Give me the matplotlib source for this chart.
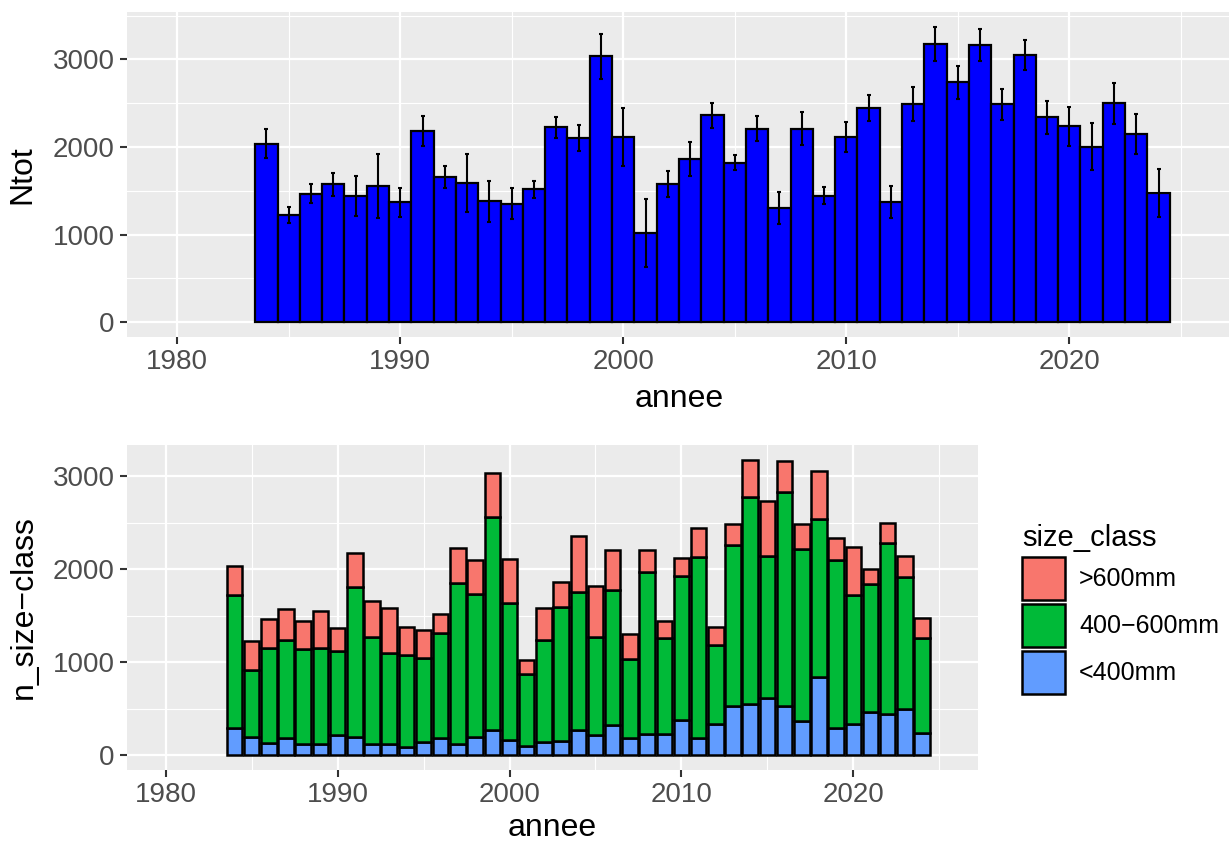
import matplotlib
matplotlib.use("Agg")
import matplotlib.pyplot as plt
from matplotlib.patches import Patch
from matplotlib.ticker import MultipleLocator
import numpy as np

plt.rcParams["font.family"] = ["Liberation Sans", "DejaVu Sans"]

annee = np.arange(1984, 2025)
ntot = [2040, 1226, 1466, 1573, 1439, 1553, 1371, 2180, 1659, 1587,
        1379, 1352, 1519, 2226, 2104, 3035, 2115, 1021, 1580, 1865,
        2362, 1823, 2207, 1306, 2211, 1443, 2120, 2442, 1375, 2491,
        3179, 2738, 3168, 2488, 3054, 2340, 2237, 2006, 2499, 2149, 1477]
ntot_err = [167, 88, 110, 131, 230, 368, 167, 170, 127, 332,
            235, 176, 97, 118, 144, 256, 330, 387, 146, 198,
            139, 90, 142, 180, 192, 98, 171, 150, 180, 195,
            197, 186, 182, 176, 172, 189, 220, 270, 235, 226, 272]

# counts per size class
n_lt400 = [297, 200, 129, 183, 118, 118, 215, 197, 118, 118,
           89, 143, 186, 118, 200, 272, 164, 103, 140, 154,
           272, 215, 322, 183, 226, 226, 383, 189, 333, 530,
           551, 619, 533, 368, 838, 290, 339, 468, 440, 501, 243]
n_400_600 = [1432, 716, 1027, 1052, 1027, 1034, 905, 1611, 1156, 984,
             985, 902, 1131, 1736, 1536, 2288, 1469, 774, 1095, 1446,
             1489, 1059, 1461, 855, 1746, 1031, 1550, 1949, 849, 1732,
             2227, 1529, 2298, 1855, 1703, 1811, 1383, 1369, 1840, 1417, 1014]
n_gt600 = [311, 310, 310, 338, 294, 401, 251, 372, 385, 485,
           305, 307, 202, 372, 368, 475, 482, 144, 345, 265,
           601, 549, 424, 268, 239, 186, 187, 304, 193, 229,
           401, 590, 337, 265, 513, 239, 515, 169, 219, 231, 220]

classes = [">600mm", "400\u2212600mm", "<400mm"]
class_colors = ["#F8766D", "#00BA38", "#619CFF"]

W, H = 1229, 843
fig = plt.figure(figsize=(W / 100, H / 100), dpi=100)


def add_ax(left, top, right, bottom):
    return fig.add_axes([left / W, 1 - bottom / H, (right - left) / W, (bottom - top) / H])


def style(ax, ylabel):
    ax.set_facecolor("#EBEBEB")
    for s in ax.spines.values():
        s.set_visible(False)
    ax.set_xlim(1977.75, 2027.25)
    ax.xaxis.set_major_locator(MultipleLocator(10))
    ax.xaxis.set_minor_locator(MultipleLocator(5))
    ax.yaxis.set_major_locator(MultipleLocator(1000))
    ax.yaxis.set_minor_locator(MultipleLocator(500))
    ax.grid(which="major", color="white", lw=1.6)
    ax.grid(which="minor", color="white", lw=0.8)
    ax.set_axisbelow(True)
    ax.tick_params(which="major", length=5, width=1.5, color="#333333",
                   labelsize=20, labelcolor="#4D4D4D", pad=4)
    ax.tick_params(which="minor", length=0)
    ax.set_xlabel("annee", fontsize=23)
    ax.set_ylabel(ylabel, fontsize=23)


# top panel: total with error bars
ax1 = add_ax(127, 12, 1231, 337)
ax1.bar(annee, ntot, width=1.0, color="#0000FF", edgecolor="black", lw=1.6, zorder=2)
ax1.errorbar(annee, ntot, yerr=ntot_err, fmt="none", ecolor="black",
             elinewidth=1.5, capsize=1.6, capthick=1.5, zorder=3)
ax1.set_ylim(-168.6, 3541.6)
style(ax1, "Ntot")
ax1.xaxis.set_label_coords(0.5, -0.145)
ax1.yaxis.set_label_coords(-0.081, 0.5)

# bottom panel: stacked by size class
ax2 = add_ax(127, 445, 978, 770)
bottom = np.zeros(len(annee))
for vals, col in zip([n_lt400, n_400_600, n_gt600], class_colors[::-1]):
    ax2.bar(annee, vals, bottom=bottom, width=0.9, color=col,
            edgecolor="black", lw=1.8, zorder=2)
    bottom += np.array(vals)
ax2.set_ylim(-159, 3338)
style(ax2, "n_size\u2212class")
ax2.xaxis.set_label_coords(0.5, -0.132)
ax2.yaxis.set_label_coords(-0.104, 0.5)

handles = [Patch(facecolor=c, edgecolor="black", lw=1.8) for c in class_colors]
leg = fig.legend(handles, classes, title="size_class", loc="upper left",
                 bbox_to_anchor=(1011 / W, 1 - 513 / H), frameon=False,
                 fontsize=18, title_fontsize=21, handlelength=1.72,
                 handleheight=2.27, labelspacing=0.17, handletextpad=0.55,
                 borderpad=0.45, borderaxespad=0)
leg._legend_box.align = "left"

fig.savefig("out.png", dpi=100)
